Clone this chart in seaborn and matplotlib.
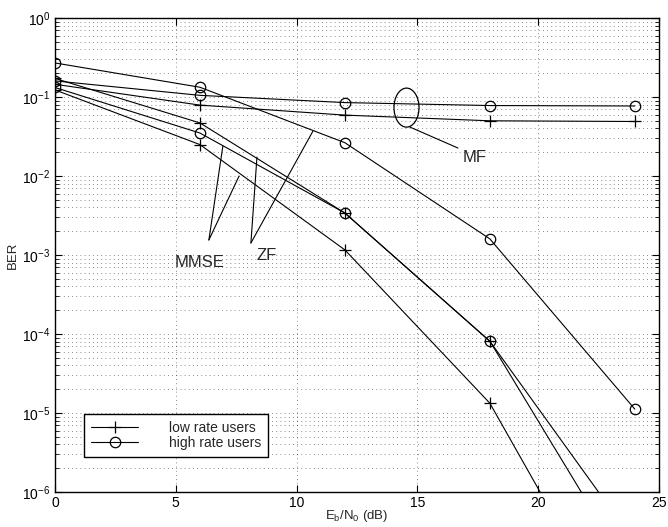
import numpy as np
import pandas as pd
import matplotlib
matplotlib.use("Agg")
import matplotlib.pyplot as plt
import seaborn as sns
from matplotlib.lines import Line2D
from matplotlib.patches import Ellipse
from matplotlib.ticker import LogLocator, LogFormatterMathtext, NullFormatter

# ---- data ----
snr_db = [0, 6, 12, 18, 24]
mf_low = [0.145, 0.079, 0.059, 0.050, 0.049]
mf_high = [0.160, 0.105, 0.085, 0.078, 0.077]
zf_low = [0.172, 0.047, 3.4e-3, 8.1e-5, 2.3e-7]
zf_high = [0.270, 0.133, 0.0264, 1.6e-3, 1.12e-5]
mmse_low = [0.123, 0.025, 1.16e-3, 1.33e-5, 7.6e-9]
mmse_high = [0.132, 0.035, 3.4e-3, 8.1e-5, 7.6e-8]
legend_labels = ["low rate users", "high rate users"]

curves = {
    "MF low": (mf_low, "low"),
    "MF high": (mf_high, "high"),
    "ZF low": (zf_low, "low"),
    "ZF high": (zf_high, "high"),
    "MMSE low": (mmse_low, "low"),
    "MMSE high": (mmse_high, "high"),
}
rows = []
for name, (vals, rate) in curves.items():
    for x, v in zip(snr_db, vals):
        rows.append({"curve": name, "rate": rate, "snr": x, "ber": v})
df = pd.DataFrame(rows)

sns.set_style("ticks")
plt.rcParams["font.family"] = ["Liberation Sans", "DejaVu Sans"]
plt.rcParams["mathtext.default"] = "regular"
plt.rcParams["xtick.direction"] = "in"
plt.rcParams["ytick.direction"] = "in"

fig = plt.figure(figsize=(6.68, 5.27), dpi=100)
ax = fig.add_axes([0.0823, 0.0664, 0.9042, 0.8994])

for name in curves:
    sub = df[df["curve"] == name]
    rate = sub["rate"].iloc[0]
    if rate == "low":
        sns.lineplot(data=sub, x="snr", y="ber", ax=ax, color="k", lw=0.8,
                     marker="+", markersize=8, markeredgewidth=0.9,
                     markeredgecolor="k", estimator=None, sort=False)
    else:
        sns.lineplot(data=sub, x="snr", y="ber", ax=ax, color="k", lw=0.8,
                     marker="o", markersize=7.5, markerfacecolor="none",
                     markeredgewidth=0.9, markeredgecolor="k",
                     estimator=None, sort=False)

ax.set_yscale("log")
ax.set_xlim(0, 25)
ax.set_ylim(1e-6, 1)
ax.set_xticks([0, 5, 10, 15, 20, 25])
ax.yaxis.set_major_locator(LogLocator(base=10, numticks=10))
ax.yaxis.set_major_formatter(LogFormatterMathtext())
ax.yaxis.set_minor_locator(LogLocator(base=10, subs=np.arange(2, 10), numticks=20))
ax.yaxis.set_minor_formatter(NullFormatter())
ax.tick_params(which="both", top=True, right=True, labelsize=10, colors="k")
ax.tick_params(which="major", length=5, width=0.8)
ax.tick_params(which="minor", length=3, width=0.6)
ax.tick_params(axis="x", pad=3)

dot = (0, (1, 4))
ax.grid(True, which="both", axis="y", linestyle=dot, color="k", lw=0.6, alpha=0.6)
ax.grid(True, which="major", axis="x", linestyle=dot, color="k", lw=0.6, alpha=0.6)

for s in ax.spines.values():
    s.set_color("k")
    s.set_linewidth(1.0)

ax.set_xlabel(r"$E_b/N_0$ (dB)", fontsize=9.5, labelpad=-1.5)
ax.set_ylabel("BER", fontsize=9.5, labelpad=2)

# ---- annotations ----
kw = dict(color="k", lw=0.8)
# MMSE
ax.plot([6.37, 6.95], [1.55e-3, 10 ** -1.62], **kw)
ax.plot([6.37, 7.62], [1.55e-3, 1.0e-2], **kw)
ax.text(4.97, 10 ** -3.09, "MMSE", fontsize=12, va="center", ha="left")
# ZF
ax.plot([8.11, 8.36], [1.42e-3, 10 ** -1.76], **kw)
ax.plot([8.11, 10.68], [1.42e-3, 10 ** -1.43], **kw)
ax.text(8.36, 10 ** -3.01, "ZF", fontsize=12, va="center", ha="left")
# MF
ell = Ellipse((0.582, 0.811), 0.0414, 0.0823, transform=ax.transAxes,
              fill=False, ec="k", lw=0.9)
ax.add_patch(ell)
ax.plot([14.69, 16.68], [10 ** -1.38, 10 ** -1.646], **kw)
ax.text(16.89, 10 ** -1.77, "MF", fontsize=12, va="center", ha="left")

# ---- legend ----
handles = [
    Line2D([], [], color="k", lw=0.8, marker="+", markersize=8, markeredgewidth=0.9),
    Line2D([], [], color="k", lw=0.8, marker="o", markersize=7.5,
           markerfacecolor="none", markeredgewidth=0.9),
]
leg = ax.legend(handles, legend_labels, loc="lower left",
                bbox_to_anchor=(0.048, 0.074), borderaxespad=0, fontsize=10,
                handlelength=3.4, handletextpad=2.2, frameon=True,
                fancybox=False, framealpha=1, edgecolor="k",
                labelspacing=0.05, borderpad=0.5)
leg.get_frame().set_linewidth(1.0)

fig.savefig("out.png", dpi=100)
